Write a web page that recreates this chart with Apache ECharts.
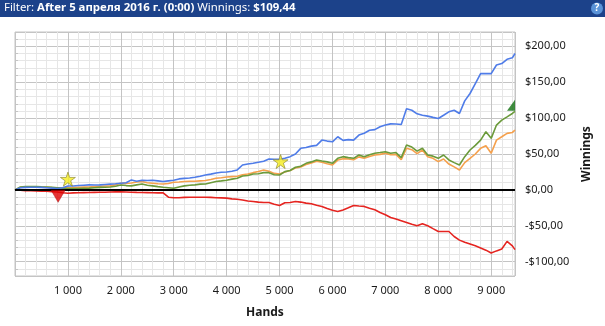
<!DOCTYPE html>
<html><head><meta charset="utf-8">
<script src="https://cdn.jsdelivr.net/npm/echarts@6/dist/echarts.min.js"></script>
<style>html,body{margin:0;padding:0;background:#fff}#c{width:605px;height:326px}</style>
</head><body><div id="c"></div>
<script>
// Hands (x values), every 100 hands
const hands = [0,100,200,300,400,500,600,700,800,900,1000,1100,1200,1300,1400,1500,1600,1700,1800,1900,2000,2100,2200,2300,2400,2500,2600,2700,2800,2900,3000,3100,3200,3300,3400,3500,3600,3700,3800,3900,4000,4100,4200,4300,4400,4500,4600,4700,4800,4900,5000,5100,5200,5300,5400,5500,5600,5700,5800,5900,6000,6100,6200,6300,6400,6500,6600,6700,6800,6900,7000,7100,7200,7300,7400,7500,7600,7700,7800,7900,8000,8100,8200,8300,8400,8500,8600,8700,8800,8900,9000,9100,9200,9300,9400,9450];
// Showdown winnings (blue)
const blueVals = [0,3,3.5,3.7,3.7,3.5,3,2.5,2,3,5.5,5.5,6,6.5,7,6.9,7,7.5,8,8.5,9.3,10,13.9,12,13.5,13,13.4,12.5,11.6,12.5,13.4,15.3,16,16.5,17.6,19,20.8,22,23.5,24.5,25,26,27.8,34.7,36,37,38.5,40,43,42.6,42.6,44,46.3,50,57.9,59,61,62,69.4,68,67,74,69,70,69.4,76.4,79,83,84,88,90.3,92,91.7,91,113,111,106,104,102.8,101,99.5,104,108.8,111,106.5,124,134.3,148,162,162,162,174,176,182,184,190];
// Net won (green)
const greenVals = [0,4,4.5,4.6,4.5,4.2,4,3.5,3,2.5,2,2,1.9,2.2,2.5,3,3.5,3.7,4,5,6.9,6,5.6,7,8.3,6.5,5.6,4.5,3.7,3,2.3,4,5.6,6.5,7,8,8.3,10,11.6,12.5,13.5,15,16.2,19.4,20,22.2,22.5,24,24,21,20.8,25.4,27,31.5,33,37,39,41.7,40.3,39,37,44,46.3,45,44,48.6,46.3,49,51,52,53.2,51,52,45,62.5,59.7,54,58,48.6,47,44,48.6,41.7,38,34.7,46.3,55.6,62,69.4,81,71.8,90.3,97.2,101.8,106.5,109.44];
// All-in EV (orange)
const orangeVals = [0,3.5,4,4,4,3.8,3.5,3.2,3,3,3,3.2,3.5,3.8,4,4.5,5,5.5,5.6,7,9.3,9,9.5,11,11.6,10,9.3,8.5,8.1,9,10.6,11,11.6,12,12,12.5,13,14.5,16.2,17,18,18.5,19,21,22.2,24,25.5,27.8,26,23,22,25,27,30.5,32,35.5,37.5,40,38.5,36.5,34.7,41.5,43.5,43,42,46,44,46.5,48.5,49.5,51,49,49.5,42,58,56,50.5,55.6,46.3,44,39.4,43,36,32,27.8,38,44,50,57.9,61.5,51,69.4,74,78.7,80,83.3];
// Non-showdown winnings (red)
const redVals = [0,-0.5,-1,-1.2,-1.5,-1.8,-2,-2.5,-3,-4,-4.6,-4.2,-4,-3.8,-3.7,-3.5,-3.4,-3.2,-3,-2.8,-2.8,-3,-3.2,-3.5,-3.7,-3.8,-4,-4.2,-4.2,-10.2,-11,-11,-10.5,-10.2,-10.2,-10.2,-10.2,-10.5,-11,-11.1,-11.5,-12.5,-13,-14,-15.5,-16.2,-17,-17.6,-17.6,-20,-21.8,-18,-17.6,-16.2,-17,-18.5,-19.4,-21.5,-23.1,-26,-28.5,-30,-28,-25,-21.8,-22.5,-23,-25.5,-27.8,-31.5,-34.7,-38.5,-40.7,-43,-45.4,-48,-50,-47.2,-50,-54,-57.9,-57.9,-58,-65,-70,-73,-75.5,-78,-81,-84,-88,-85,-82.4,-71.8,-78,-83.3];
// Markers
const starPoints = [[1000, 15], [5020, 39.5]];
const downMarker = [[815, -9]];
const upMarker = [[9450, 118]];

const FONT = '"Segoe UI","Noto Sans","Open Sans",Arial,sans-serif';
function money(v){ if (v % 50 !== 0) return ''; const s = Math.abs(v).toFixed(2).replace('.', ','); return (v < 0 ? '-' : '') + '$' + s; }
function handsFmt(v){ if (v <= 0 || v % 1000 !== 0) return ''; return String(v/1000) + ' 000'; }
const pairs = arr => hands.map((h,i)=>[h, arr[i]]);

const chart = echarts.init(document.getElementById('c'), null, {renderer:'canvas'});
const lineBase = {type:'line', showSymbol:false, symbol:'none', animation:false, z:3};
chart.setOption({
  animation:false,
  backgroundColor:'#fff',
  grid:{left:15, right:90, top:32, bottom:50, show:true, borderColor:'#c4c4c4', borderWidth:1, backgroundColor:'transparent'},
  graphic:[
    {type:'rect', left:0, top:0, shape:{width:605, height:17}, style:{fill:'#1c428a'}, z:10},
    {type:'text', left:4, top:2, z:11, style:{text:'{n|Filter: }{b|After 5 апреля 2016 г. (0:00)}{n| Winnings: }{b|$109,44}',
      rich:{n:{fill:'#fff', fontSize:11.4, fontFamily:FONT}, b:{fill:'#fff', fontSize:11.4, fontWeight:'bold', fontFamily:FONT}}}},
    {type:'circle', shape:{cx:597, cy:8.5, r:6}, style:{fill:'#5a93d8'}, z:11},
    {type:'text', x:597, y:8.5, z:12, style:{text:'?', fill:'#fff', fontSize:10, fontWeight:'bold', fontFamily:FONT, align:'center', verticalAlign:'middle'}}
  ],
  xAxis:[
    {type:'value', min:0, max:9450, interval:200, position:'bottom',
     axisLine:{show:false}, axisTick:{show:true, length:3, lineStyle:{color:'#c4c4c4'}}, axisLabel:{show:false},
     splitLine:{show:true, lineStyle:{color:'#e6e6e6', width:1}}},
    {type:'value', min:0, max:9450, interval:1000, position:'bottom',
     axisLine:{show:false}, axisTick:{show:false},
     axisLabel:{formatter:handsFmt, margin:9, fontSize:11, color:'#1a1a1a', fontFamily:FONT, showMinLabel:false, showMaxLabel:false},
     splitLine:{show:true, lineStyle:{color:'#c4c4c4', width:1}},
     name:'Hands', nameLocation:'middle', nameGap:31, nameTextStyle:{fontWeight:'bold', fontSize:12, color:'#1a1a1a', fontFamily:FONT}}
  ],
  yAxis:[
    {type:'value', min:-120, max:220, interval:10, position:'right',
     axisLine:{show:false}, axisTick:{show:true, length:3, lineStyle:{color:'#c4c4c4'}}, axisLabel:{show:false},
     splitLine:{show:true, lineStyle:{color:'#e6e6e6', width:1}}},
    {type:'value', min:-120, max:220, position:'right',
     axisLine:{show:false}, axisTick:{show:false},
     axisLabel:{formatter:money, margin:10, fontSize:11, color:'#1a1a1a', fontFamily:FONT, showMinLabel:false, showMaxLabel:false},
     splitLine:{show:true, lineStyle:{color:'#c4c4c4', width:1}},
     name:'Winnings', nameLocation:'middle', nameGap:54, nameRotate:90, nameTextStyle:{fontWeight:'bold', fontSize:12, color:'#1a1a1a', fontFamily:FONT}}
  ],
  series:[
    {type:'line', data:[], markLine:{silent:true, symbol:'none', label:{show:false}, lineStyle:{color:'#000', width:2, type:'solid'}, data:[{yAxis:0}]}, z:2},
    Object.assign({}, lineBase, {name:'All-in EV', data:pairs(orangeVals), lineStyle:{width:1.6, color:'#f5a04c'}, itemStyle:{color:'#f5a04c'}}),
    Object.assign({}, lineBase, {name:'Net won', data:pairs(greenVals), lineStyle:{width:1.6, color:'#6b9a3b'}, itemStyle:{color:'#6b9a3b'}}),
    Object.assign({}, lineBase, {name:'Showdown', data:pairs(blueVals), lineStyle:{width:1.6, color:'#4f7ce8'}, itemStyle:{color:'#4f7ce8'}}),
    Object.assign({}, lineBase, {name:'Non-showdown', data:pairs(redVals), lineStyle:{width:1.6, color:'#e52420'}, itemStyle:{color:'#e52420'}}),
    {type:'scatter', data:starPoints, symbol:'path://M50,0 L61,35 L98,35 L68,57 L79,92 L50,70 L21,92 L32,57 L2,35 L39,35 Z', symbolSize:[15,14],
     itemStyle:{color:'#f6ee1e', borderColor:'#8a8430', borderWidth:0.8}, z:5, animation:false, silent:true},
    {type:'scatter', data:downMarker, symbol:'triangle', symbolRotate:180, symbolSize:[14,12],
     itemStyle:{color:'#e00000', borderColor:'#9a0000', borderWidth:0.5}, z:5, animation:false, silent:true},
    {type:'scatter', data:upMarker, symbol:'path://M10,0 L10,12 L0,12 Z', symbolSize:[8,11], symbolOffset:[-4,0], clip:false,
     itemStyle:{color:'#107010'}, z:5, animation:false, silent:true}
  ]
});
</script>
</body></html>
